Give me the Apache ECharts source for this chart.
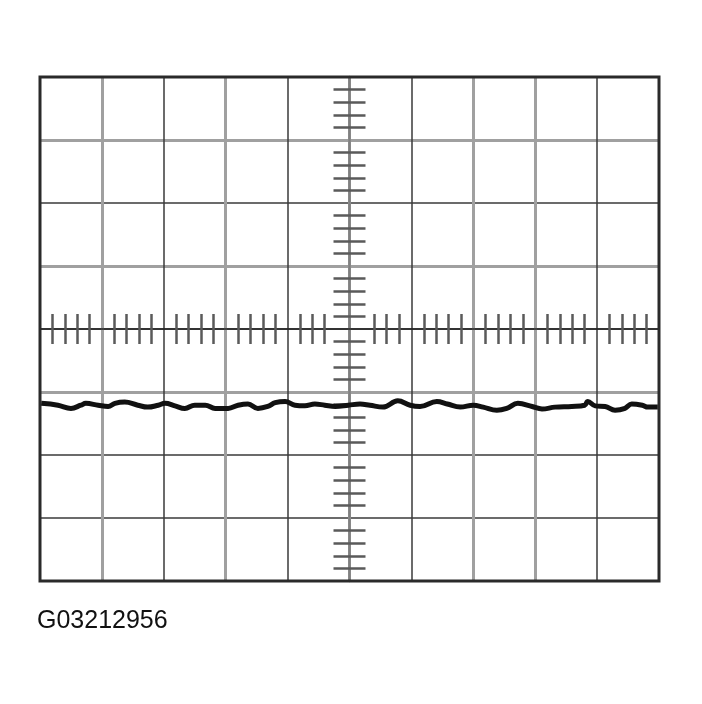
<!DOCTYPE html>
<html>
<head>
<meta charset="utf-8">
<script src="https://cdn.jsdelivr.net/npm/echarts@6/dist/echarts.min.js"></script>
<style>
html,body{margin:0;padding:0;background:#fff;}
#c{width:702px;height:704px;}
</style>
</head>
<body>
<div id="c"></div>
<script>
// Oscilloscope screen: 10 horizontal divisions (-5..5), 8 vertical divisions (-4..4)
var xDivMin = -5, xDivMax = 5;
var yDivMin = -4, yDivMax = 4;
var figureLabel = 'G03212956';

// Trace (divisions)
var traceX = [-4.98,-4.71,-4.50,-4.34,-4.26,-4.06,-3.90,-3.79,-3.63,-3.42,-3.26,-3.09,-2.98,-2.82,-2.66,-2.50,-2.33,-2.17,-1.96,-1.80,-1.64,-1.48,-1.32,-1.20,-1.04,-0.88,-0.72,-0.56,-0.40,-0.23,-0.02,0.17,0.33,0.54,0.78,0.98,1.14,1.41,1.58,1.79,2.00,2.16,2.38,2.54,2.72,2.95,3.11,3.32,3.59,3.80,3.85,3.97,4.13,4.29,4.45,4.56,4.73,4.82,4.98];
var traceY = [-1.18,-1.21,-1.26,-1.21,-1.18,-1.21,-1.23,-1.18,-1.16,-1.21,-1.24,-1.21,-1.18,-1.22,-1.26,-1.21,-1.21,-1.26,-1.26,-1.21,-1.19,-1.26,-1.23,-1.17,-1.15,-1.21,-1.22,-1.19,-1.21,-1.23,-1.21,-1.19,-1.21,-1.24,-1.14,-1.21,-1.23,-1.15,-1.19,-1.24,-1.21,-1.24,-1.29,-1.26,-1.18,-1.23,-1.27,-1.24,-1.23,-1.21,-1.15,-1.22,-1.23,-1.29,-1.26,-1.19,-1.21,-1.24,-1.24];

// Graticule sub-division marks on the centre lines (the two next to the centre on the horizontal line are absent)
var xSubTicks = [];
for (var k = xDivMin; k < xDivMax; k++) {
  [0.2, 0.4, 0.6, 0.8].forEach(function (f) {
    var v = Math.round((k + f) * 10) / 10;
    if (Math.abs(v) > 0.3) xSubTicks.push(v);
  });
}

var G = '#a0a0a0', D = '#3a3a3a', T = 'rgba(0,0,0,0)';
// per grid line, from min to max: light (thick) or dark (thin)
var xLight = [T, G, T, G, T, G, T, G, G, T, T];
var xDark  = [T, T, D, T, D, T, D, T, T, D, T];
var yLight = [T, T, T, G, T, G, T, G, T];
var yDark  = [T, D, D, T, D, T, D, T, T];

var traceData = traceX.map(function (x, i) { return [x, traceY[i]]; });

var chart = echarts.init(document.getElementById('c'), null, {renderer: 'canvas'});

function xGridAx(pos, colors, width, showLine) {
  return {
    type: 'value', position: pos, min: xDivMin, max: xDivMax, interval: 1,
    axisLine: {show: showLine, onZero: true, onZeroAxisIndex: 0, lineStyle: {color: '#222', width: 1.5}},
    axisTick: {show: false}, axisLabel: {show: false},
    splitLine: {show: true, lineStyle: {color: colors, width: width}}
  };
}
function xTickAx(pos) {
  return {
    type: 'value', position: pos, min: xDivMin, max: xDivMax, interval: 1,
    axisLine: {show: false, onZero: true, onZeroAxisIndex: 0},
    axisTick: {show: true, customValues: xSubTicks, length: 15, lineStyle: {color: '#5a5a5a', width: 2.5}},
    axisLabel: {show: false},
    splitLine: {show: false}
  };
}
function yAx(pos, main) {
  return {
    type: 'value', position: pos, min: yDivMin, max: yDivMax, interval: 1,
    axisLine: {show: main, onZero: true, onZeroAxisIndex: 0, lineStyle: {color: '#808080', width: 2.5}},
    axisTick: {show: false},
    minorTick: {show: true, splitNumber: 5, length: 16, lineStyle: {color: '#5a5a5a', width: 2.5}},
    axisLabel: {show: false},
    splitLine: {show: true, lineStyle: {color: main ? yLight : yDark, width: main ? 3 : 1.5}},
    minorSplitLine: {show: false}
  };
}

chart.setOption({
  animation: false,
  backgroundColor: '#fff',
  grid: {left: 40, top: 77, width: 619, height: 504, show: true, borderColor: '#2a2a2a', borderWidth: 3, backgroundColor: 'transparent', z: 3},
  xAxis: [xGridAx('bottom', xLight, 3, true), xGridAx('top', xDark, 1.5, false), xTickAx('bottom'), xTickAx('top')],
  yAxis: [yAx('left', true), yAx('right', false)],
  series: [{
    type: 'line', xAxisIndex: 0, yAxisIndex: 0,
    data: traceData, showSymbol: false, smooth: 0.4,
    lineStyle: {color: '#111', width: 5}, z: 5
  }],
  graphic: [{
    type: 'text', left: 37, top: 609,
    style: {text: figureLabel, font: '25px "Liberation Sans", Arial, sans-serif', fill: '#111'}
  }]
});
</script>
</body>
</html>
